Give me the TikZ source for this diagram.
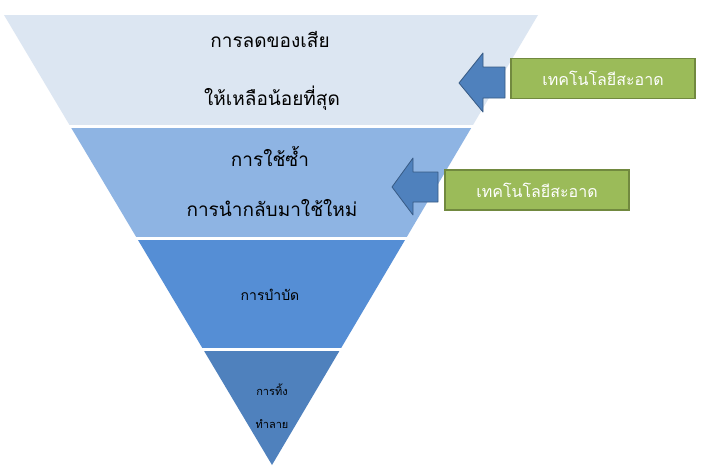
\documentclass[tikz,border=0pt]{standalone}
\usepackage{fontspec}
\newfontfamily\thaifont[Script=Thai]{Loma}
\definecolor{bandA}{HTML}{DCE6F2}
\definecolor{bandB}{HTML}{8EB4E3}
\definecolor{bandC}{HTML}{558ED5}
\definecolor{bandD}{HTML}{4F81BD}
\definecolor{greenbox}{HTML}{9BBB59}
\definecolor{greenline}{HTML}{71893F}
\begin{document}
\begin{tikzpicture}[x=1pt,y=-1pt,font=\thaifont]
	\tikzstyle{tag}=[draw=greenline,fill=greenbox,line width=1.5pt,minimum width=184pt,minimum height=40pt,text=white,font=\thaifont\fontsize{16}{18}\selectfont,inner sep=0pt]
	\tikzstyle{blockarrow}=[fill=bandD,draw=bandD!70!black,line width=0.8pt,line join=round]
	\tikzstyle{big}=[font=\thaifont\fontsize{19}{22}\selectfont]
	\useasboundingbox (0,0) rectangle (704,474);
	\fill[white] (0,0) rectangle (704,474);
	% pyramid bands
	\begin{scope}
		\clip (4,15) -- (538,15) -- (272,465) -- cycle;
		\fill[bandA] (0,15) rectangle (704,125);
		\fill[bandB] (0,128) rectangle (704,237);
		\fill[bandC] (0,240) rectangle (704,348);
		\fill[bandD] (0,351) rectangle (704,466);
	\end{scope}
	% texts
	\node[big] (t1) at (270,40) {การลดของเสีย};
	\node[big] (t2) at (272,98) {ให้เหลือน้อยที่สุด};
	\node[big] (t3) at (270,156) {การใช้ซ้ำ};
	\node[big] (t4) at (272,208) {การนำกลับมาใช้ใหม่};
	\node[font=\thaifont\fontsize{14}{16}\selectfont] (t5) at (270,295) {การบำบัด};
	\node[font=\thaifont\fontsize{11}{13}\selectfont] (t6) at (272,390) {การทิ้ง};
	\node[font=\thaifont\fontsize{11}{13}\selectfont] (t7) at (272,424) {ทำลาย};
	% arrows
	\draw[blockarrow] (459,83) -- (483,53) -- (483,67) -- (505,67) -- (505,98) -- (483,98) -- (483,112) -- cycle;
	\draw[blockarrow] (392,187) -- (413,158) -- (413,172) -- (438,172) -- (438,202) -- (413,202) -- (413,215) -- cycle;
	% tags
	\node[tag] (g1) at (603,78.5) {เทคโนโลยีสะอาด};
	\node[tag] (g2) at (537,190) {เทคโนโลยีสะอาด};
\end{tikzpicture}
\end{document}
